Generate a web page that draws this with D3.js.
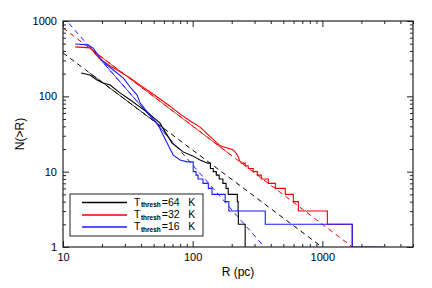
<!DOCTYPE html>
<html><head><meta charset="utf-8">
<script src="https://cdn.jsdelivr.net/npm/d3@7"></script>
<style>
html,body{margin:0;padding:0;background:#fff;}
svg{display:block;font-family:"Liberation Sans",Arial,sans-serif;}
</style></head>
<body><svg id="c" width="432" height="288"></svg>
<script>
// ---- data ----
const xMajor = [10, 100, 1000];
const xMinor = [20,30,40,50,60,70,80,90,200,300,400,500,600,700,800,900,2000,3000,4000,5000];
const yMajor = [1, 10, 100, 1000];
const yMinor = [2,3,4,5,6,7,8,9,20,30,40,50,60,70,80,90,200,300,400,500,600,700,800,900];
const xTickLabels = ["10", "100", "1000"];
const yTickLabels = ["1", "10", "100", "1000"];

// Cumulative distributions: smooth (linear) part, then step part
const blackR = [13.8,16.1,18.3,20.4,23.1,27.5,32.9,39.3,44.5,49.5,56.0,61.2,69.4,84.3,100,114,129];
const blackN = [204,192,165,150,141,111,90,72,62,53,44,34,24,18.3,16.2,14.3,13];
const blackStepR = [129,137,144,152,160,171,181,188,221,224,225,254];
const blackStepN = [13,11,10,9,8,7,6,5,4,3,2,1];

const redR = [12.4,16.2,17.0,18.9,23.0,27.5,32.9,39.3,46.9,56.0,67,80.1,95.7,114,137,163,206,221,233];
const redN = [453,440,400,324,254,211,176,141,114,92,74,58,47,39,29,22,19.4,16.7,13.4];
const redStepR = [233,237,254,268,293,315,338,383,434,518,597,653,1093,1700];
const redStepN = [13.4,13,12,11,10,9,8,7,6,5,4,3,2,1];

const blueR = [12.4,15.6,17.0,20.4,24.3,29.1,32.9,37.3,39.3,45.3,53.2,56,63.5,70.8,80.1,90.6];
const blueN = [496,482,438,286,225,176,133,104,82,60,44,37,24,16.6,14.3,13.5];
const blueStepR = [90.6,101,106,110,120,132,141,178,190,363,1700,2960];
const blueStepN = [13.5,10,9,8,7,6,5,4,3,2,1,1];

// Power-law fits N = A (R/10)^(-s): solid over fit range, dashed elsewhere
const fitNames = ["black","red","blue"];
const fitA = [377, 809, 1143];
const fitSlope = [1.29, 1.303, 1.97];
const fitLo = [16, 16, 16];
const fitHi = [60, 200, 65];

const legendLabels = ["64", "32", "16"];
const colors = {black:"#000000", red:"#ee0000", blue:"#1a1aff"};

// ---- drawing ----
const svg = d3.select("#c");
const L = 63, R = 413, T = 21, B = 247;
const x = d3.scaleLog().domain([10, 5000]).range([L, R]);
const y = d3.scaleLog().domain([1, 1000]).range([B, T]);

svg.append("defs").append("clipPath").attr("id","clip")
  .append("rect").attr("x",L).attr("y",T).attr("width",R-L).attr("height",B-T);

const g = svg.append("g").attr("clip-path","url(#clip)");

const lineLin = d3.line().x(d=>x(d[0])).y(d=>y(d[1])).curve(d3.curveLinear);
const lineStep = d3.line().x(d=>x(d[0])).y(d=>y(d[1])).curve(d3.curveStepAfter);

// fits
fitNames.forEach((nm,i)=>{
  const f = r => fitA[i]*Math.pow(r/10, -fitSlope[i]);
  const full = [10, 5000].map(r=>[r, f(r)]);
  const solid = [fitLo[i], fitHi[i]].map(r=>[r, f(r)]);
  g.append("path").attr("d", lineLin(full)).attr("fill","none")
    .attr("stroke", colors[nm]).attr("stroke-width",1).attr("stroke-dasharray","5,4");
  g.append("path").attr("d", lineLin(solid)).attr("fill","none")
    .attr("stroke", colors[nm]).attr("stroke-width",0.8);
});

const series = [
  ["black", blackR, blackN, blackStepR, blackStepN],
  ["red", redR, redN, redStepR, redStepN],
  ["blue", blueR, blueN, blueStepR, blueStepN]
];
series.forEach(([nm, rr, nn, sr, sn])=>{
  g.append("path").attr("d", lineLin(rr.map((r,i)=>[r, nn[i]]))).attr("fill","none")
    .attr("stroke", colors[nm]).attr("stroke-width",1.1);
  g.append("path").attr("d", lineStep(sr.map((r,i)=>[r, sn[i]]))).attr("fill","none")
    .attr("stroke", colors[nm]).attr("stroke-width",1.1);
});

// axes
function axis(gen, scale, vals, size, labels, tx, ty){
  const a = gen(scale).tickValues(vals).tickSizeInner(-size).tickSizeOuter(0).tickPadding(6)
    .tickFormat(labels ? ((d,i)=>labels[i]) : "");
  const ga = svg.append("g").attr("transform",`translate(${tx},${ty})`).call(a);
  ga.select(".domain").remove();
  ga.selectAll("line").attr("stroke","#222").attr("stroke-width",1);
  ga.selectAll("text").attr("font-size",11).attr("fill","#000")
    .attr("font-family",'"Liberation Sans",Arial,sans-serif');
  if (!labels) ga.selectAll("text").remove();
  return ga;
}
axis(d3.axisBottom, x, xMajor, 6, xTickLabels, 0, B);
axis(d3.axisBottom, x, xMinor, 3, null, 0, B);
axis(d3.axisTop, x, xMajor, 6, null, 0, T);
axis(d3.axisTop, x, xMinor, 3, null, 0, T);
axis(d3.axisLeft, y, yMajor, 6, yTickLabels, L, 0);
axis(d3.axisLeft, y, yMinor, 3, null, L, 0);
axis(d3.axisRight, y, yMajor, 6, null, R, 0);
axis(d3.axisRight, y, yMinor, 3, null, R, 0);

svg.append("rect").attr("x",L).attr("y",T).attr("width",R-L).attr("height",B-T)
  .attr("fill","none").attr("stroke","#222").attr("stroke-width",1.2);

// axis titles
svg.append("text").attr("x", (L+R)/2).attr("y", 276).attr("text-anchor","middle")
  .attr("font-size",12).text("R (pc)");
svg.append("text").attr("transform",`translate(24,${(T+B)/2}) rotate(-90)`)
  .attr("text-anchor","middle").attr("font-size",12).text("N(>R)");

// legend
const lg = svg.append("g");
lg.append("rect").attr("x",70).attr("y",194).attr("width",133).attr("height",42)
  .attr("fill","#fff").attr("stroke","#222").attr("stroke-width",1);
const legY = [202.5, 215, 227];
fitNames.forEach((nm,i)=>{
  lg.append("line").attr("x1",82).attr("x2",127).attr("y1",legY[i]).attr("y2",legY[i])
    .attr("stroke",colors[nm]).attr("stroke-width",1.3);
  const base = legY[i] + 3;
  const t1 = lg.append("text").attr("x",134).attr("y",base).attr("font-size",10.5).text("T");
  const w1 = t1.node().getComputedTextLength();
  const t2 = lg.append("text").attr("x",134 + w1 + 0.5).attr("y",base + 1.8)
    .attr("font-size",6.5).attr("font-weight","bold").text("thresh");
  const w2 = t2.node().getComputedTextLength();
  lg.append("text").attr("x",134 + w1 + w2 + 1.5).attr("y",base).attr("font-size",10.5)
    .style("white-space","pre").text("=" + legendLabels[i] + "   K");
});
</script></body></html>
